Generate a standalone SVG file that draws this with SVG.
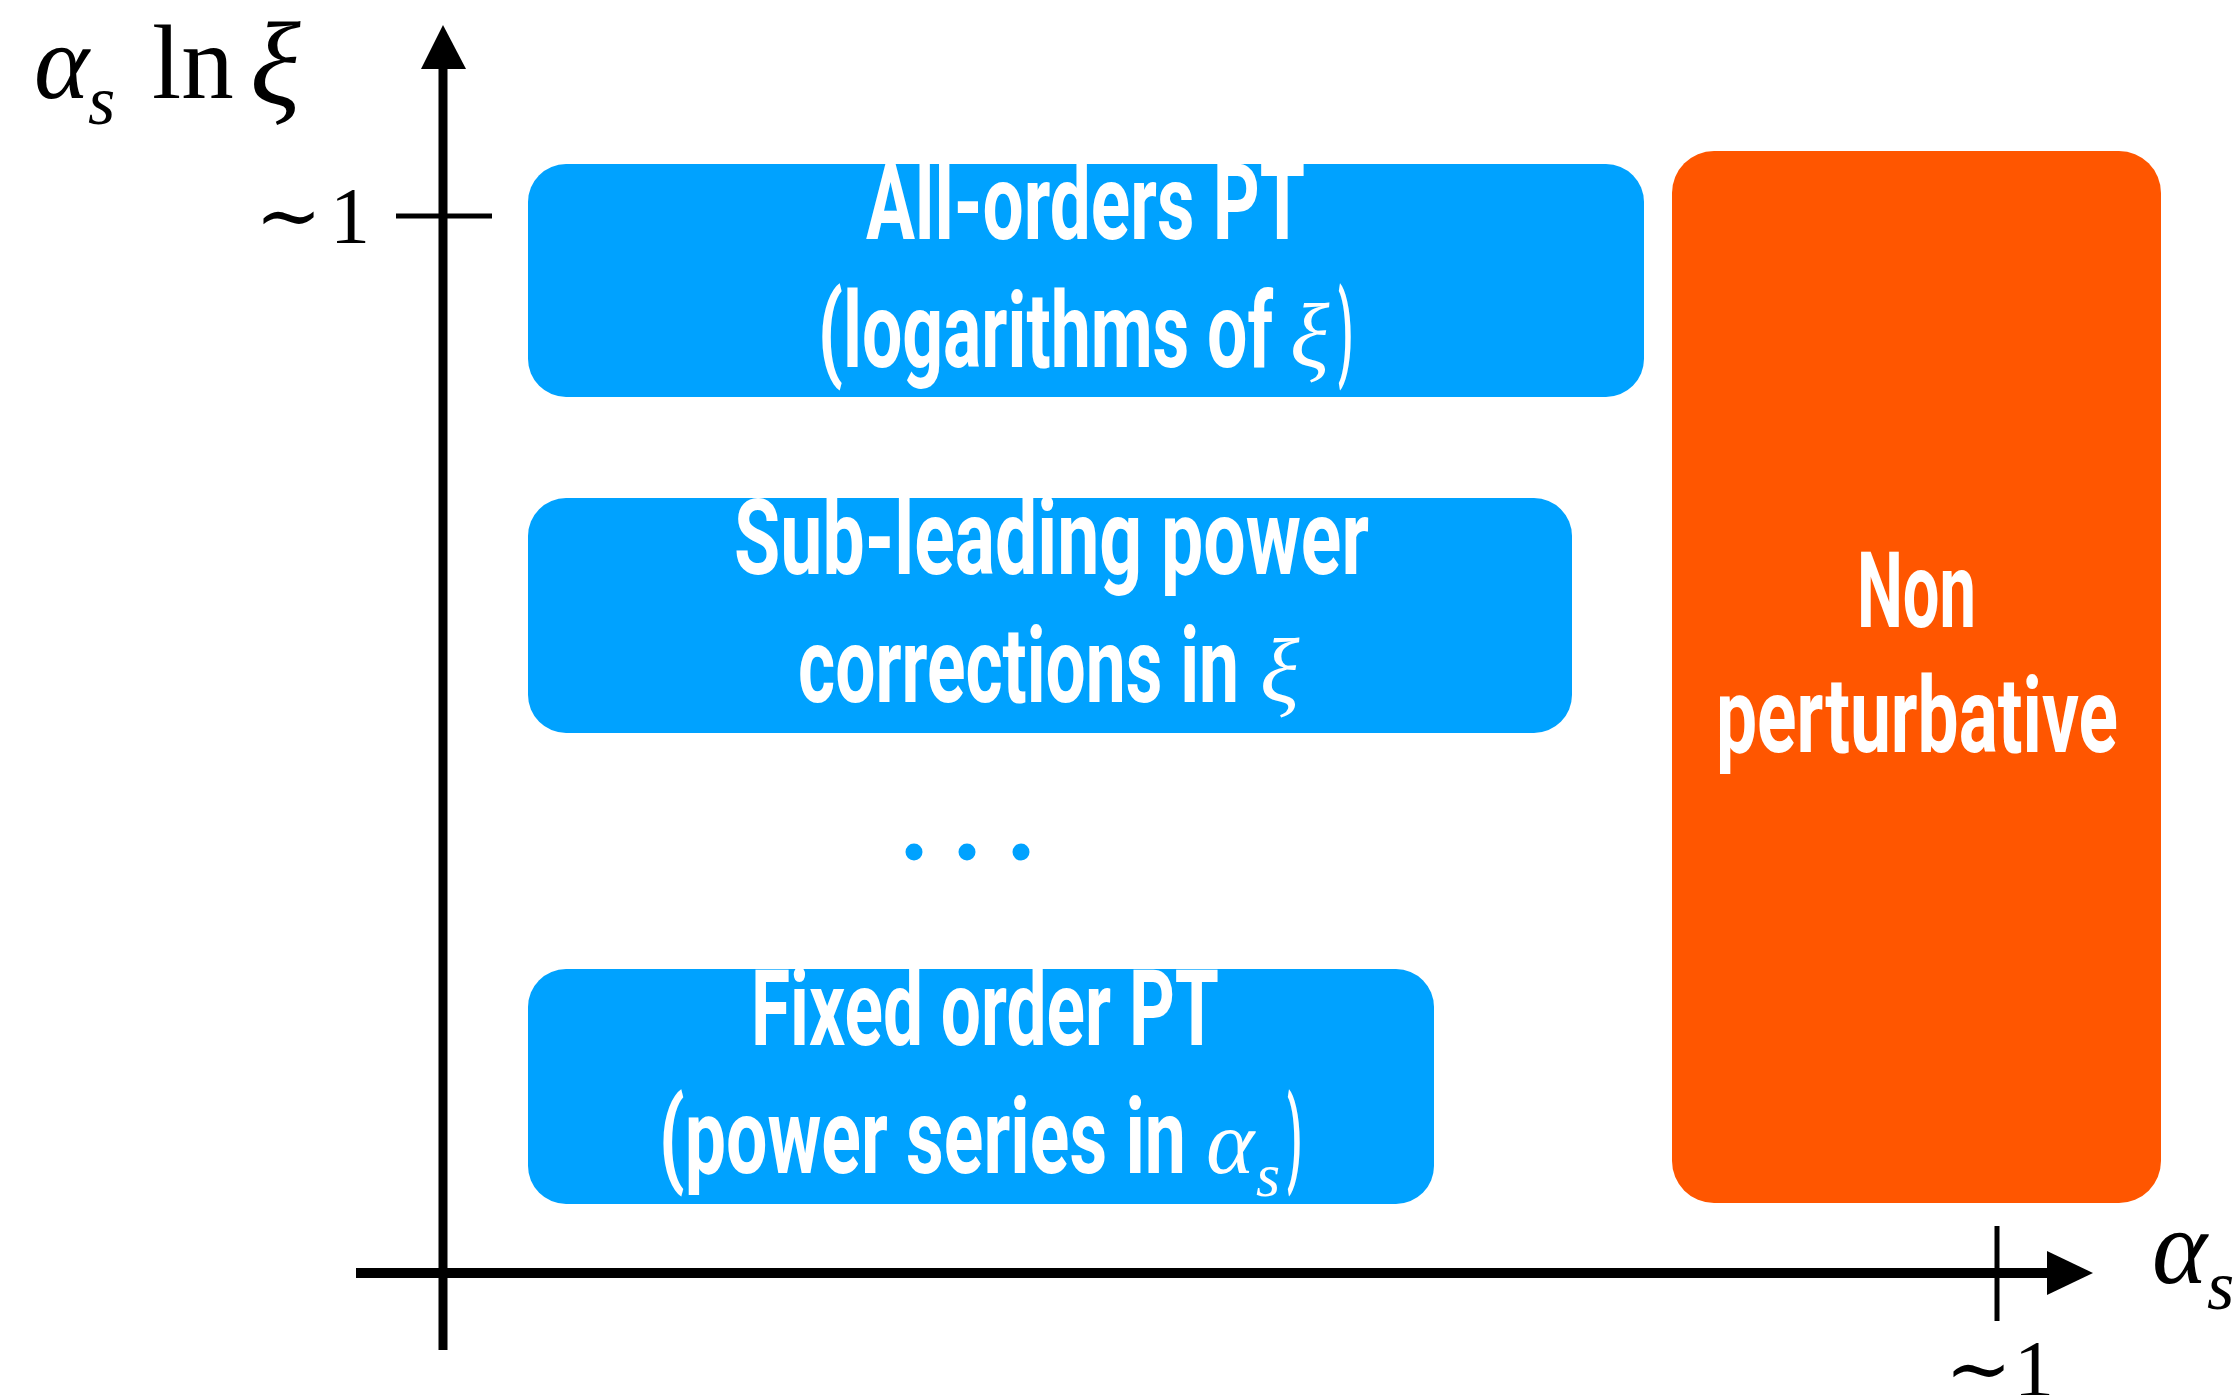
<svg xmlns="http://www.w3.org/2000/svg" width="2233" height="1395" viewBox="0 0 2233 1395">
<style>
.box{fill:#00A2FF}
.np{fill:#FF5600}
.lab{font-family:Roboto,"DejaVu Sans Condensed",sans-serif;font-weight:700;font-size:106px;fill:#fff}
.mathw{font-family:"Liberation Serif","DejaVu Serif",serif;font-style:italic;fill:#fff}
.math{font-family:"Liberation Serif","DejaVu Serif",serif;fill:#000}
.it{font-style:italic}
.ax{stroke:#000;fill:none}
</style>
<rect width="2233" height="1395" fill="#fff"/>
<g id="axes">
<line class="ax" x1="443" y1="1350" x2="443" y2="66" stroke-width="9"/>
<polygon points="443,25 421,69 466,69" fill="#000"/>
<line class="ax" x1="396" y1="216" x2="492" y2="216" stroke-width="5"/>
<line class="ax" x1="356" y1="1273" x2="2050" y2="1273" stroke-width="10"/>
<polygon points="2093,1273 2047,1251 2047,1295" fill="#000"/>
<line class="ax" x1="1997" y1="1226" x2="1997" y2="1321" stroke-width="5"/>
</g>
<g id="axis-labels">
<text class="math it" x="34" y="98" font-size="105">α</text>
<text class="math it" x="88" y="124" font-size="70">s</text>
<text class="math" x="152" y="98" font-size="105">ln</text>
<text class="math it" x="250" y="104" font-size="118">ξ</text>
<text class="math" x="255" y="243" font-size="80">∼</text>
<text class="math" x="330" y="243" font-size="80">1</text>
<text class="math it" x="2152" y="1283" font-size="105">α</text>
<text class="math it" x="2207" y="1309" font-size="70">s</text>
<text class="math" x="1945" y="1396" font-size="80">∼</text>
<text class="math" x="2014" y="1396" font-size="80">1</text>
</g>
<g id="all-orders">
<rect class="box" x="528" y="164" width="1116" height="233" rx="38"/>
<text class="lab" x="866" y="239" textLength="439" lengthAdjust="spacingAndGlyphs">All-orders PT</text>
<text class="lab" x="818" y="367" textLength="455" lengthAdjust="spacingAndGlyphs">(logarithms of</text>
<text class="mathw" x="1290" y="367" font-size="92">ξ</text>
<text class="lab" x="1338" y="367" textLength="15" lengthAdjust="spacingAndGlyphs">)</text>
</g>
<g id="subleading">
<rect class="box" x="528" y="498" width="1044" height="235" rx="38"/>
<text class="lab" x="734" y="574" textLength="635" lengthAdjust="spacingAndGlyphs">Sub-leading power</text>
<text class="lab" x="798" y="702" textLength="441" lengthAdjust="spacingAndGlyphs">corrections in</text>
<text class="mathw" x="1260" y="702" font-size="92">ξ</text>
</g>
<g id="dots" fill="#00A2FF">
<circle cx="914" cy="852" r="8.5"/>
<circle cx="967" cy="852" r="8.5"/>
<circle cx="1021" cy="852" r="8.5"/>
</g>
<g id="fixed-order">
<rect class="box" x="528" y="969" width="906" height="235" rx="38"/>
<text class="lab" x="751" y="1045" textLength="468" lengthAdjust="spacingAndGlyphs">Fixed order PT</text>
<text class="lab" x="659" y="1173" textLength="527" lengthAdjust="spacingAndGlyphs">(power series in</text>
<text class="mathw" x="1206" y="1173" font-size="92">α</text>
<text class="mathw" x="1256" y="1196" font-size="62">s</text>
<text class="lab" x="1287" y="1173" textLength="15" lengthAdjust="spacingAndGlyphs">)</text>
</g>
<g id="non-perturbative">
<rect class="np" x="1672" y="151" width="489" height="1052" rx="42"/>
<text class="lab" x="1857" y="627" textLength="119" lengthAdjust="spacingAndGlyphs">Non</text>
<text class="lab" x="1716" y="752" textLength="402" lengthAdjust="spacingAndGlyphs">perturbative</text>
</g>
<g id="connectors"/>
</svg>
